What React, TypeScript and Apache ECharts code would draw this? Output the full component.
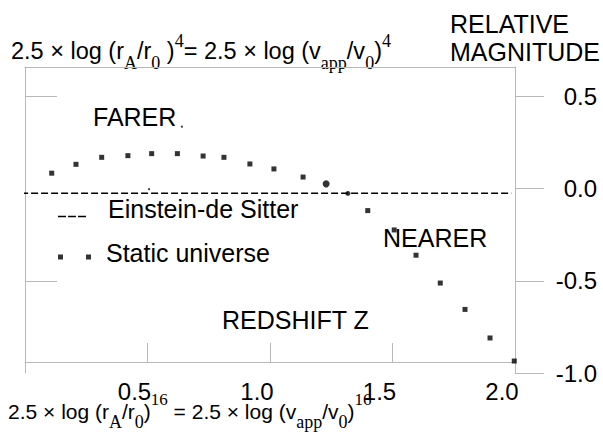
import React, { useEffect, useRef } from "react";
import * as echarts from "echarts";

// Static universe points (redshift z, relative magnitude)
const staticZ = [0.109, 0.208, 0.313, 0.42, 0.517, 0.622, 0.727, 0.812, 0.918, 1.016, 1.135, 1.229, 1.318, 1.399, 1.507, 1.596, 1.695, 1.796, 1.898, 1.997];
const staticMag = [0.084, 0.132, 0.17, 0.179, 0.19, 0.19, 0.177, 0.17, 0.134, 0.107, 0.063, 0.026, -0.026, -0.119, -0.224, -0.361, -0.512, -0.655, -0.81, -0.935];
// Einstein-de Sitter reference line (endpoints)
const edsZ = [-0.016, 1.985];
const edsMag = [-0.025, -0.025];
// stray dots in the figure
const strayZ = [0.64, 0.506];
const strayMag = [0.336, -0.003];

const yTicks = [0.5, 0, -0.5, -1];
const yLeftTicks = [0.5, -0.5];
const xTicks = [0.5, 1, 1.5];
const xLabels = [0.5, 1, 1.5, 2];

const SANS = "Liberation Sans, Arial, sans-serif";
const SERIF = "Liberation Serif, Times New Roman, serif";
const GRAY = "#b8b8b8";

const topRich = {
  m: { fontSize: 23.5, fontFamily: SANS, lineHeight: 30, fill: "#000" },
  sub: { fontSize: 18, fontFamily: SERIF, lineHeight: 43, verticalAlign: "bottom", fill: "#000" },
  sup: { fontSize: 18, fontFamily: SERIF, verticalAlign: "top", padding: [3, 0, 0, 0], fill: "#000" },
};
const bottomRich = {
  m: { fontSize: 21, fontFamily: SANS, lineHeight: 30, fill: "#000" },
  sub: { fontSize: 18, fontFamily: SERIF, lineHeight: 52, verticalAlign: "bottom", padding: [0, 0, 6.5, 0], fill: "#000" },
  sup: { fontSize: 17, fontFamily: SERIF, verticalAlign: "top", padding: [6, 0, 0, 0], fill: "#000" },
};

export default function App() {
  const ref = useRef<HTMLDivElement>(null);
  useEffect(() => {
    if (!ref.current) return;
    const chart = echarts.init(ref.current, null, { renderer: "svg" });
    const staticData = staticZ.map((z, i) => {
      const item: any = { value: [z, staticMag[i]] };
      if (i === 11) { item.symbol = "circle"; item.symbolSize = 7; }
      if (i === 12) { item.symbol = "circle"; item.symbolSize = 5; }
      return item;
    });
    const legendText = { fontSize: 25, fontFamily: SANS, color: "#000", lineHeight: 28 };
    const option: any = {
      animation: false,
      backgroundColor: "#fff",
      grid: { left: 25, right: 88, top: 67, bottom: 63 },
      legend: [
        {
          left: 58, top: 195, padding: 0, selectedMode: false,
          itemWidth: 28, itemHeight: 16.5,
          textStyle: { ...legendText, padding: [0, 0, 0, 17] },
          data: [{
            name: "Einstein-de Sitter",
            icon: "path://M0,0h0.01v0.01h-0.01zM0,15h8v1.5h-8zM10,15h8v1.5h-8zM20,15h8v1.5h-8z",
            itemStyle: { color: "#000", borderWidth: 0 },
          }],
        },
        {
          left: 58, top: 239, padding: 0, selectedMode: false,
          itemWidth: 33, itemHeight: 13,
          textStyle: { ...legendText, padding: [0, 0, 0, 10] },
          data: [{
            name: "Static universe",
            icon: "path://M0,0h0.01v0.01h-0.01zM0,8h5v5h-5zM28,8h5v5h-5z",
            itemStyle: { color: "#000", borderWidth: 0 },
          }],
        },
      ],
      xAxis: [
        {
          type: "value", min: 0, max: 2, position: "bottom", offset: -11,
          axisLine: { show: true, onZero: false, lineStyle: { color: GRAY, width: 1 } },
          axisTick: { show: true, inside: true, length: 19, customValues: xTicks, lineStyle: { color: GRAY } },
          axisLabel: {
            customValues: xLabels, fontSize: 24, fontFamily: SANS, color: "#000", margin: 17,
            padding: [0, 26, 0, 0],
            formatter: (v: number) => v.toFixed(1),
          },
          splitLine: { show: false },
        },
        {
          type: "value", min: 0, max: 2, position: "top",
          axisLine: { show: true, onZero: false, lineStyle: { color: GRAY, width: 1 } },
          axisTick: { show: false }, axisLabel: { show: false }, splitLine: { show: false },
        },
      ],
      yAxis: [
        {
          type: "value", min: -1, max: 0.66, position: "left",
          axisLine: { show: true, onZero: false, lineStyle: { color: GRAY, width: 1 } },
          axisTick: { show: true, inside: true, length: 32, customValues: yLeftTicks, lineStyle: { color: GRAY } },
          axisLabel: { show: false }, splitLine: { show: false },
        },
        {
          type: "value", min: -1, max: 0.66, position: "right",
          axisLine: { show: true, onZero: false, lineStyle: { color: GRAY, width: 1 } },
          axisTick: { show: true, inside: false, length: 29, customValues: yTicks, lineStyle: { color: GRAY } },
          axisLabel: {
            customValues: yTicks, fontSize: 24, fontFamily: SANS, color: "#000", margin: 82, align: "right",
            formatter: (v: number) => v.toFixed(1),
          },
          splitLine: { show: false },
        },
      ],
      series: [
        {
          name: "Einstein-de Sitter", type: "line", xAxisIndex: 0, yAxisIndex: 0,
          data: edsZ.map((z, i) => [z, edsMag[i]]),
          symbol: "none", clip: false,
          lineStyle: { color: "#000", width: 1.6, type: [7, 3] },
          itemStyle: { color: "#000" },
        },
        {
          name: "Static universe", type: "scatter", xAxisIndex: 0, yAxisIndex: 0,
          data: staticData, symbol: "rect", symbolSize: 5, clip: false,
          itemStyle: { color: "#000" },
        },
        {
          name: "stray", type: "scatter", xAxisIndex: 0, yAxisIndex: 0,
          data: strayZ.map((z, i) => [z, strayMag[i]]), symbol: "circle", symbolSize: 2,
          itemStyle: { color: "#000" }, silent: true,
        },
      ],
      graphic: [
        {
          type: "text", left: 11, top: 32,
          style: {
            text: "{m|2.5 × log (r}{sub|A}{m|/r}{sub|0}{m| )}{sup|4}{m|= 2.5 × log (v}{sub|app}{m|/v}{sub|0}{m|)}{sup|4}",
            rich: topRich,
          },
        },
        {
          type: "text", left: 8, top: 391,
          style: {
            text: "{m|2.5 × log (r}{sub|A}{m|/r}{sub|0}{m|)}{sup|16}{m| = 2.5 × log (v}{sub|app}{m|/v}{sub|0}{m|)}{sup|16}",
            rich: bottomRich,
          },
        },
        {
          type: "text", left: 450, top: 10,
          style: { text: "RELATIVE\nMAGNITUDE", fontSize: 25, fontFamily: SANS, lineHeight: 28, fill: "#000" },
        },
        { type: "text", x: 93, y: 117, style: { text: "FARER", fontSize: 25, fontFamily: SANS, fill: "#000", verticalAlign: "middle" } },
        { type: "text", x: 383, y: 238, style: { text: "NEARER", fontSize: 25, fontFamily: SANS, fill: "#000", verticalAlign: "middle" } },
        { type: "text", x: 222, y: 320, style: { text: "REDSHIFT Z", fontSize: 25, fontFamily: SANS, fill: "#000", verticalAlign: "middle" } },
      ],
    };
    chart.setOption(option);
    return () => chart.dispose();
  }, []);
  return (
    <div
      ref={ref}
      style={{ position: "fixed", left: 0, top: 0, width: 603, height: 436, background: "#fff" }}
    />
  );
}
